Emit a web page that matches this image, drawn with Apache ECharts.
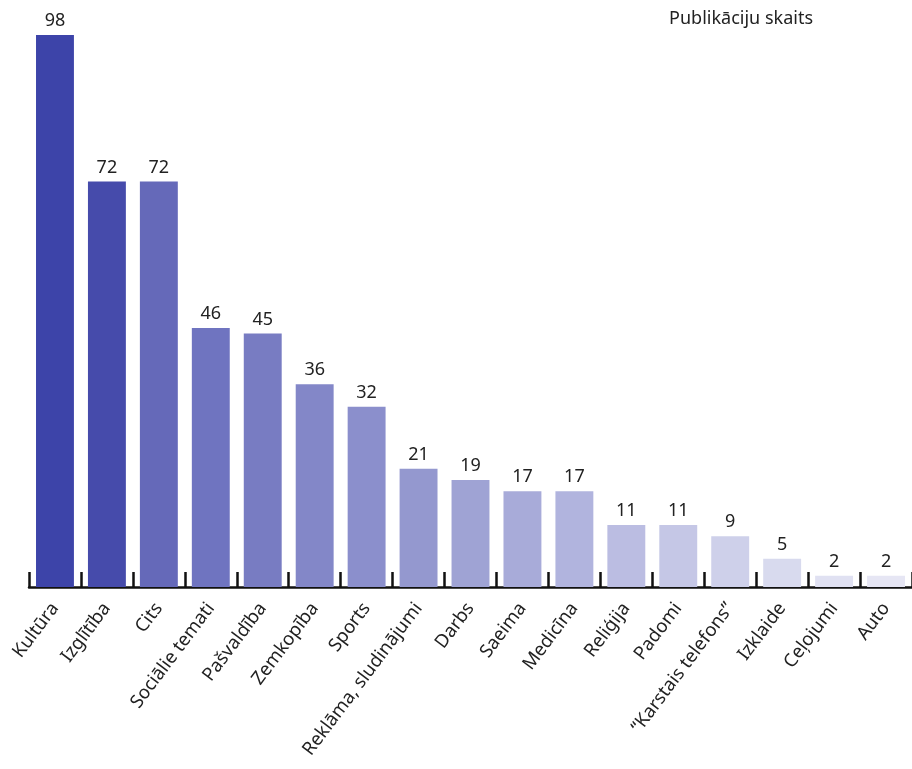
<!DOCTYPE html>
<html><head><meta charset="utf-8">
<script src="https://cdn.jsdelivr.net/npm/echarts@6/dist/echarts.min.js"></script>
<style>html,body{margin:0;padding:0;background:#fff}#c{width:912px;height:769px}</style>
</head><body><div id="c"></div>
<script>
const categories = ["Kultūra","Izglītība","Cits","Sociālie temati","Pašvaldība","Zemkopība","Sports","Reklāma, sludinājumi","Darbs","Saeima","Medicīna","Reliģija","Padomi","“Karstais telefons”","Izklaide","Ceļojumi","Auto"];
const values = [98,72,72,46,45,36,32,21,19,17,17,11,11,9,5,2,2];
const colors = ["#3d44a9","#464bab","#6569b9","#6f74c0","#787cc2","#8387c8","#8b8fcc","#9498cf","#9fa3d4","#a8abd9","#b1b4de","#bbbde2","#c5c7e6","#ced0ea","#d8daee","#e0e1f2","#e6e6f4"];
const title = "Publikāciju skaits";
const FONT = "Noto Sans";
const chart = echarts.init(document.getElementById('c'));
chart.setOption({
  animation:false,
  textStyle:{fontFamily:FONT},
  title:{text:title,right:94,top:5,textStyle:{fontSize:18,fontWeight:'normal',color:'#222',fontFamily:FONT}},
  grid:{left:29,right:0,top:35,bottom:182,containLabel:false},
  xAxis:{type:'category',data:categories,
    axisLine:{show:true,lineStyle:{color:'#111',width:2.5}},
    axisTick:{show:true,inside:true,length:15,alignWithLabel:false,lineStyle:{color:'#111',width:2.5}},
    axisLabel:{rotate:53,fontSize:18.5,color:'#222',margin:18,interval:0,fontFamily:FONT}},
  yAxis:{type:'value',min:0,max:98,show:false,splitLine:{show:false}},
  series:[{type:'bar',barWidth:'73%',
    data:values.map((v,i)=>({value:v,itemStyle:{color:colors[i]}})),
    label:{show:true,position:'top',distance:5,fontSize:18,color:'#222',fontFamily:FONT}}]
});
</script></body></html>
